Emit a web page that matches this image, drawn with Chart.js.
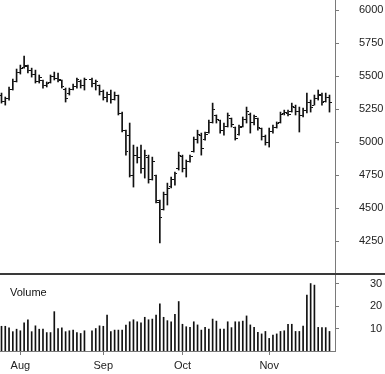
<!DOCTYPE html>
<html>
<head>
<meta charset="utf-8">
<script src="https://cdn.jsdelivr.net/npm/chart.js@4.4.1/dist/chart.umd.min.js"></script>
<style>
  body { margin: 0; background: #fff; }
  #wrap { position: relative; width: 385px; height: 374px; }
  #price { position: absolute; left: 0; top: 0; }
  #sep { position: absolute; left: 0; top: 273px; width: 385px; height: 2px; background: #3a3a3a; }
  #vol { position: absolute; left: 0; top: 275px; }
  #volLabel { position: absolute; left: 10px; top: 286px; font: 11px "Liberation Sans", Arial, sans-serif; color: #111; }
</style>
</head>
<body>
<div id="wrap">
  <canvas id="price" width="385" height="273"></canvas>
  <div id="sep"></div>
  <canvas id="vol" width="385" height="99"></canvas>
  <div id="volLabel">Volume</div>
</div>
<script>
const dates = [
  '2001-07-25','2001-07-26','2001-07-27','2001-07-30','2001-07-31',
  '2001-08-01','2001-08-02','2001-08-03','2001-08-06','2001-08-07','2001-08-08','2001-08-09','2001-08-10',
  '2001-08-13','2001-08-14','2001-08-15','2001-08-16','2001-08-17','2001-08-20','2001-08-21','2001-08-22',
  '2001-08-23','2001-08-24','2001-08-28','2001-08-29','2001-08-30','2001-08-31',
  '2001-09-03','2001-09-04','2001-09-05','2001-09-06','2001-09-07','2001-09-10','2001-09-11','2001-09-12',
  '2001-09-13','2001-09-14','2001-09-17','2001-09-18','2001-09-19','2001-09-20','2001-09-21','2001-09-24',
  '2001-09-25','2001-09-26','2001-09-27','2001-09-28',
  '2001-10-01','2001-10-02','2001-10-03','2001-10-04','2001-10-05','2001-10-08','2001-10-09','2001-10-10',
  '2001-10-11','2001-10-12','2001-10-15','2001-10-16','2001-10-17','2001-10-18','2001-10-19','2001-10-22',
  '2001-10-23','2001-10-24','2001-10-25','2001-10-26','2001-10-29','2001-10-30','2001-10-31',
  '2001-11-01','2001-11-02','2001-11-05','2001-11-06','2001-11-07','2001-11-08','2001-11-09','2001-11-12',
  '2001-11-13','2001-11-14','2001-11-15','2001-11-16','2001-11-19','2001-11-20','2001-11-21','2001-11-22',
  '2001-11-23'
];
const open = [
  5350,5305,5330,5400,5460,5530,5565,5575,5540,5510,
  5460,5465,5425,5450,5500,5480,5465,5400,5365,5400,
  5420,5460,5430,5470,5445,5430,5380,5340,5360,5325,
  5350,5215,5085,5050,4750,4900,4880,4800,4880,4720,
  4750,4540,4490,4600,4660,4720,4800,4890,4800,4855,
  4930,5020,5050,5020,5070,5150,5200,5160,5090,5120,
  5180,5110,5060,5120,5170,5210,5150,5180,5100,5040,
  5000,5080,5110,5150,5215,5220,5230,5260,5230,5200,
  5240,5300,5280,5330,5350,5310,5340
];
const high = [
  5371,5341,5417,5477,5553,5583,5651,5583,5560,5545,
  5508,5470,5455,5508,5530,5523,5470,5409,5409,5440,
  5485,5470,5485,5485,5470,5432,5394,5379,5394,5379,
  5356,5227,5090,5144,4977,4962,4977,4939,4901,4886,
  4750,4561,4621,4689,4735,4773,4924,4901,4864,4901,
  5038,5090,5068,5076,5167,5295,5205,5167,5144,5220,
  5182,5114,5129,5190,5265,5220,5205,5182,5106,5053,
  5106,5129,5152,5227,5242,5242,5295,5280,5265,5258,
  5371,5318,5356,5394,5371,5371,5356
];
const low = [
  5295,5280,5318,5394,5455,5515,5560,5523,5492,5447,
  5447,5409,5417,5447,5470,5455,5409,5303,5356,5394,
  5409,5409,5394,5417,5394,5356,5318,5303,5295,5318,
  5205,5076,4901,4735,4659,4841,4765,4727,4689,4712,
  4538,4235,4485,4523,4652,4674,4788,4773,4735,4848,
  4924,4992,4901,5015,5068,5144,5144,5068,5053,5114,
  5114,5015,5053,5114,5144,5068,5129,5090,5015,4977,
  4962,5068,5106,5144,5205,5197,5227,5205,5076,5190,
  5220,5227,5280,5318,5280,5303,5227
];
const close = [
  5310,5330,5400,5460,5530,5560,5580,5540,5510,5460,
  5490,5425,5440,5500,5480,5470,5420,5330,5395,5420,
  5470,5430,5470,5440,5460,5380,5340,5360,5320,5350,
  5215,5090,4930,4750,4900,4880,4800,4900,4720,4850,
  4560,4430,4600,4650,4720,4760,4900,4800,4850,4890,
  5020,5060,4950,5060,5150,5250,5170,5090,5120,5200,
  5130,5030,5110,5170,5230,5150,5190,5110,5040,5000,
  5080,5110,5140,5210,5225,5210,5270,5230,5200,5240,
  5300,5260,5330,5360,5300,5340,5300
];
const volume = [
  11,11,10.3,8.6,9.7,9,12.5,13.9,8.6,11.2,
  9.7,9.7,8.2,8.2,17.5,10,10.3,8.6,9,9.3,
  8.2,7.8,9,9,10,11.2,11,16,8.6,9.3,
  9.3,9.3,11.5,13,13.9,13,12.5,15,13.9,14.2,
  16,21,15,13.5,13,16.3,22,11.9,10.8,10.5,
  13,11.6,9.3,10.5,9.8,14.2,13.3,9.8,9.8,13,
  10.4,13,13,13.3,15.6,11.6,10.5,8.3,7.6,8.7,
  5.6,7.1,7.6,8.7,9,11.9,11.9,8.7,8.7,11.1,
  24.9,30,29.3,10.5,10.4,10.4,8.7
];
const priceTicks = [4250, 4500, 4750, 5000, 5250, 5500, 5750, 6000];
const volTicks = [10, 20, 30];
const monthLabels = ['Aug', 'Sep', 'Oct', 'Nov'];
const monthTickDates = ['2001-08-01', '2001-08-31', '2001-10-01', '2001-11-01'];

// position on the axis = count of weekdays since the first date (holidays leave a gap)
function slotOf(d) {
  const t = new Date(dates[0] + 'T00:00:00Z');
  const end = new Date(d + 'T00:00:00Z');
  let n = 0;
  while (t < end) {
    const wd = t.getUTCDay();
    if (wd !== 0 && wd !== 6) n++;
    t.setUTCDate(t.getUTCDate() + 1);
  }
  return n;
}
const slots = dates.map(slotOf);
const xMin = -0.4, xMax = 88.46;

function tickImg(side) {
  const c = document.createElement('canvas');
  c.width = 5; c.height = 1;
  const g = c.getContext('2d');
  g.fillStyle = '#111';
  g.fillRect(side === 'open' ? 0 : 3, 0, 2, 1);
  return c;
}

// right axes: fixed width, no extra vertical padding for the labels
function fitRight(s) {
  s.width = 50;
  s.paddingTop = 0;
  s.paddingBottom = 0;
}

const font = { family: '"Liberation Sans", Arial, sans-serif', size: 11 };
const axisGray = '#7a7a7a';

new Chart(document.getElementById('price'), {
  type: 'bar',
  data: {
    datasets: [
      {
        type: 'bar',
        data: slots.map((s, i) => ({ x: s, y: [low[i], high[i]] })),
        backgroundColor: '#111',
        barThickness: 1,
        borderWidth: 0
      },
      {
        type: 'line',
        data: slots.map((s, i) => ({ x: s, y: open[i] })),
        showLine: false,
        pointStyle: tickImg('open'),
        pointRadius: 2
      },
      {
        type: 'line',
        data: slots.map((s, i) => ({ x: s, y: close[i] })),
        showLine: false,
        pointStyle: tickImg('close'),
        pointRadius: 2
      }
    ]
  },
  options: {
    responsive: false,
    animation: false,
    events: [],
    layout: { padding: 0, autoPadding: false },
    plugins: { legend: { display: false }, tooltip: { enabled: false } },
    scales: {
      x: { type: 'linear', min: xMin, max: xMax, offset: false, display: false },
      y: {
        position: 'right',
        min: 4008,
        max: 6076,
        offset: false,
        afterFit: fitRight,
        afterBuildTicks: (s) => { s.ticks = priceTicks.map(v => ({ value: v })); },
        grid: { drawOnChartArea: false, offset: false, tickLength: 4, color: axisGray },
        border: { color: axisGray, width: 1 },
        ticks: { padding: 20, font: font, color: '#222', callback: (v) => String(v) }
      }
    }
  }
});

new Chart(document.getElementById('vol'), {
  type: 'bar',
  data: {
    datasets: [{
      data: slots.map((s, i) => ({ x: s, y: volume[i] })),
      backgroundColor: '#111',
      barThickness: 1,
      borderWidth: 0
    }]
  },
  options: {
    responsive: false,
    animation: false,
    events: [],
    layout: { padding: 0, autoPadding: false },
    plugins: { legend: { display: false }, tooltip: { enabled: false } },
    scales: {
      x: {
        type: 'linear',
        min: xMin,
        max: xMax,
        offset: false,
        afterBuildTicks: (s) => { s.ticks = monthTickDates.map(d => ({ value: slotOf(d) })); },
        afterFit: (s) => { s.height = 23; },
        grid: { drawOnChartArea: false, offset: false, tickLength: 4, color: axisGray },
        border: { color: axisGray, width: 1 },
        ticks: {
          autoSkip: false, maxRotation: 0, padding: 4, font: font, color: '#222',
          callback: (v, i) => monthLabels[i]
        }
      },
      y: {
        position: 'right',
        min: 0,
        max: 33.8,
        offset: false,
        afterFit: fitRight,
        afterBuildTicks: (s) => { s.ticks = volTicks.map(v => ({ value: v })); },
        grid: { drawOnChartArea: false, offset: false, tickLength: 4, color: axisGray },
        border: { color: axisGray, width: 1 },
        ticks: { padding: 31, font: font, color: '#222', callback: (v) => String(v) }
      }
    }
  }
});
</script>
</body>
</html>
